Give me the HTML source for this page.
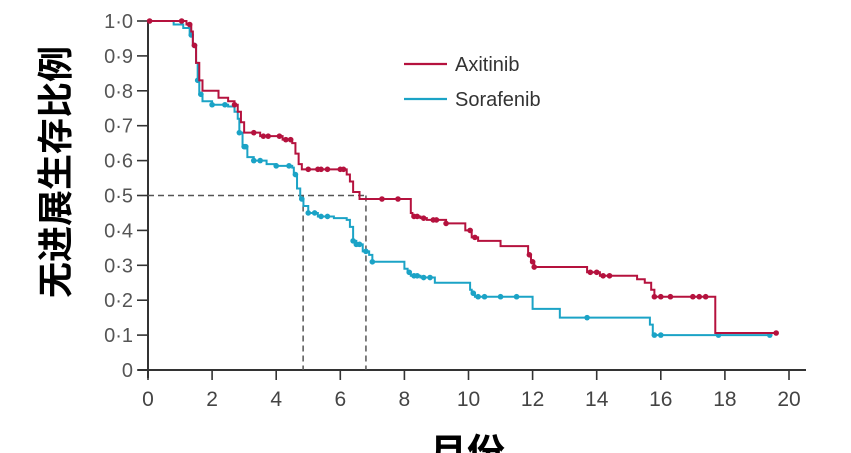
<!DOCTYPE html>
<html><head><meta charset="utf-8"><style>
html,body{margin:0;padding:0;background:#fff;width:851px;height:453px;overflow:hidden}
svg{display:block}
text{font-family:"Liberation Sans","Noto Sans CJK SC",sans-serif}
</style></head><body>
<svg id="chart" width="851" height="453" viewBox="0 0 851 453" xmlns="http://www.w3.org/2000/svg" overflow="hidden">
<g id="axes"></g>
<g id="series"></g>
<g>
<line x1="404" y1="64" x2="447" y2="64" stroke="#b5123e" stroke-width="2.2"/>
<text x="455" y="71" font-size="20" fill="#333">Axitinib</text>
<line x1="404" y1="99" x2="447" y2="99" stroke="#1ba3c6" stroke-width="2.2"/>
<text x="455" y="106" font-size="20" fill="#333">Sorafenib</text>
</g>
<text transform="translate(68,172) rotate(-90)" text-anchor="middle" font-size="36" font-weight="bold" fill="#000" style="font-family:'Noto Sans CJK SC',sans-serif">无进展生存比例</text>
<text x="467" y="466" text-anchor="middle" font-size="38" font-weight="bold" fill="#000" style="font-family:'Noto Sans CJK SC',sans-serif">月份</text>
</svg>
<script>
const xTicks=[0,2,4,6,8,10,12,14,16,18,20];
const yTicks=[0,0.1,0.2,0.3,0.4,0.5,0.6,0.7,0.8,0.9,1.0];
const yTickLabels=["0","0·1","0·2","0·3","0·4","0·5","0·6","0·7","0·8","0·9","1·0"];
const axiTimes=[0,1.2,1.35,1.4,1.5,1.6,1.7,2.2,2.5,2.7,2.8,2.9,3.0,3.5,4.2,4.5,4.6,4.7,4.8,6.2,6.3,6.4,6.6,6.8,8.2,8.25,8.5,8.7,9.3,9.9,10.1,10.3,11.0,11.86,11.95,12.05,13.7,14.1,15.26,15.5,15.7,15.8,17.7,19.6];
const axiSurv=[1.0,0.99,0.97,0.93,0.88,0.83,0.80,0.78,0.77,0.76,0.74,0.71,0.68,0.67,0.66,0.65,0.62,0.59,0.575,0.56,0.54,0.51,0.49,0.49,0.45,0.44,0.435,0.43,0.42,0.40,0.38,0.37,0.355,0.33,0.31,0.295,0.28,0.27,0.26,0.25,0.23,0.21,0.106,0.106];
const axiCensor=[0.05,1.05,1.3,1.45,2.7,3.3,3.6,3.75,4.1,4.3,4.45,5.0,5.3,5.4,5.6,6.0,6.1,7.3,7.8,8.3,8.4,8.6,8.9,9.0,9.3,10.05,10.2,11.9,12.0,12.05,13.8,14.0,14.2,14.4,15.8,16.0,16.3,17.0,17.2,17.4,19.6];
const soraTimes=[0,0.8,1.1,1.3,1.4,1.5,1.55,1.6,1.7,2.0,2.5,2.7,2.8,2.85,2.95,3.1,3.3,3.7,4.0,4.5,4.55,4.65,4.75,4.85,5.0,5.3,5.8,6.2,6.3,6.4,6.5,6.7,6.9,7.0,8.0,8.1,8.2,8.5,8.95,10.05,10.1,10.2,12.0,12.85,15.66,15.75,19.4];
const soraSurv=[1.0,0.99,0.98,0.96,0.93,0.88,0.83,0.79,0.77,0.76,0.755,0.74,0.72,0.68,0.64,0.61,0.60,0.59,0.585,0.58,0.56,0.52,0.49,0.47,0.45,0.44,0.435,0.43,0.41,0.37,0.36,0.34,0.33,0.31,0.29,0.28,0.27,0.265,0.25,0.23,0.22,0.21,0.175,0.15,0.13,0.10,0.10];
const soraCensor=[1.35,1.45,1.55,1.65,2.0,2.4,2.85,3.0,3.05,3.3,3.5,4.0,4.4,4.6,4.8,5.0,5.2,5.4,5.6,6.4,6.5,6.6,6.8,7.0,8.15,8.3,8.4,8.6,8.8,10.15,10.3,10.5,11.0,11.5,13.7,15.8,16.0,17.8,19.4];
const NS="http://www.w3.org/2000/svg";
const X0=148,X1=789,Y0=370,Y1=21;
function xs(t){return X0+(X1-X0)*t/20;}
function ys(s){return Y0+(Y1-Y0)*s;}
function mk(tag,attrs,parent){const e=document.createElementNS(NS,tag);for(const k in attrs)e.setAttribute(k,attrs[k]);parent.appendChild(e);return e;}
const axes=document.getElementById('axes');
const series=document.getElementById('series');
let yl=mk('line',{x1:X0,y1:Y1,x2:X0,y2:Y0+8,stroke:'#333','stroke-width':2},axes);


let xl=mk('line',{x1:X0-10,y1:Y0,x2:806,y2:Y0,stroke:'#333','stroke-width':2},axes);


xTicks.forEach(function(t){
 const tk=mk('line',{x1:xs(t),y1:Y0,x2:xs(t),y2:Y0+10,stroke:'#333','stroke-width':1.6},axes);
 
 
 const tx=mk('text',{x:xs(t),y:Y0+36,'text-anchor':'middle','font-size':21,fill:'#444'},axes);
 tx.textContent=String(t);
 
 
});
yTicks.forEach(function(v,i){
 const tk=mk('line',{x1:X0-11,y1:ys(v),x2:X0,y2:ys(v),stroke:'#333','stroke-width':1.6},axes);
 
 
 const tx=mk('text',{x:X0-15,y:ys(v)+7,'text-anchor':'end','font-size':20,fill:'#555'},axes);
 tx.textContent=yTickLabels[i];
 
 
});
const medSora=4.84, medAxi=6.8;
const ref=mk('path',{d:'M'+X0+' '+ys(0.5)+'H'+xs(medAxi)+'M'+xs(medSora)+' '+ys(0.5)+'V'+Y0+'M'+xs(medAxi)+' '+ys(0.5)+'V'+Y0,stroke:'#555','stroke-width':1.5,'stroke-dasharray':'6,4',fill:'none'},axes);


function stepAt(times,surv,t){let s=surv[0];for(let i=0;i<times.length;i++){if(times[i]<=t)s=surv[i];}return s;}
function drawSeries(times,surv,cens,color,name){
 let d='M'+xs(times[0])+' '+ys(surv[0]);
 for(let i=1;i<times.length;i++){d+='H'+xs(times[i])+'V'+ys(surv[i]);}
 const p=mk('path',{d:d,stroke:color,'stroke-width':2,fill:'none'},series);
 
 
 cens.forEach(function(t){
  const c=mk('circle',{cx:xs(t),cy:ys(stepAt(times,surv,t)),r:2.8,fill:color},series);
  
  
 });
}
drawSeries(soraTimes,soraSurv,soraCensor,'#1ba3c6','sorafenib');
drawSeries(axiTimes,axiSurv,axiCensor,'#b5123e','axitinib');
</script>
</body></html>
